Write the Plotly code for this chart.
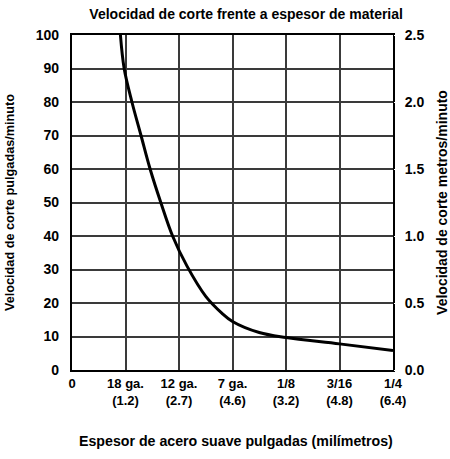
import plotly.graph_objects as go

# Material thickness positions (category slots along the x axis) and cutting speed (in/min)
thickness_pos = [0.905, 0.975, 1.12, 1.29, 1.46, 1.66, 1.88, 2.15, 2.5, 2.8, 3.0, 3.5, 4.0, 5.0, 6.0]
speed_ipm = [100, 90, 80, 70, 60, 50, 40, 31, 22, 17, 14.5, 11.2, 9.7, 7.8, 5.8]

x_tick_vals = [0, 1, 2, 3, 4, 5, 6]
x_tick_text = ["0", "18 ga.<br>(1.2)", "12 ga.<br>(2.7)", "7 ga.<br>(4.6)",
               "1/8<br>(3.2)", "3/16<br>(4.8)", "1/4<br>(6.4)"]
left_ticks = [0, 10, 20, 30, 40, 50, 60, 70, 80, 90, 100]
right_ticks = [0.0, 0.5, 1.0, 1.5, 2.0, 2.5]

FONT = "Liberation Sans, Arial, sans-serif"

fig = go.Figure()
fig.add_trace(go.Scatter(
    x=thickness_pos, y=speed_ipm, mode="lines",
    line=dict(color="black", width=3, shape="spline", smoothing=1.0),
    showlegend=False, hoverinfo="skip", cliponaxis=True,
))
# Metric scale companion (hidden) so the right axis is drawn
fig.add_trace(go.Scatter(
    x=[0, 6], y=[0, 2.5], mode="lines", yaxis="y2",
    line=dict(color="rgba(0,0,0,0)"), showlegend=False, hoverinfo="skip",
))

grid = dict(showgrid=True, gridcolor="#3a3a3a", gridwidth=1.6)

fig.update_layout(
    width=450, height=459,
    margin=dict(l=72, r=57, t=35, b=89),
    paper_bgcolor="white", plot_bgcolor="white",
    font=dict(family=FONT, color="black"),
    title=dict(
        text="<b>Velocidad de corte frente a espesor de material</b>",
        font=dict(size=14, family=FONT), x=0.547, xref="container",
        y=0.969, yref="container", xanchor="center", yanchor="middle",
    ),
    xaxis=dict(
        range=[0, 6], tickvals=x_tick_vals, ticktext=x_tick_text,
        tickfont=dict(size=13, family=FONT, weight="bold"),
        ticks="", ticklen=0, showline=True, linecolor="black", linewidth=2.2,
        mirror=True, zeroline=False, **grid,
        fixedrange=True, automargin=False,
    ),
    yaxis=dict(
        range=[0, 100], tickvals=left_ticks,
        tickfont=dict(size=14, family=FONT, weight="bold"),
        ticks="outside", ticklen=8, tickcolor="white",
        showline=True, linecolor="black", linewidth=2.2, mirror=True,
        zeroline=False, **grid, automargin=False,
        title=dict(text="<b>Velocidad de corte pulgadas/minuto</b>",
                   font=dict(size=12.7, family=FONT), standoff=18),
    ),
    yaxis2=dict(
        range=[0, 2.5], tickvals=right_ticks, tickformat=".1f",
        overlaying="y", side="right", automargin=False,
        tickfont=dict(size=14, family=FONT, weight="bold"),
        ticks="outside", ticklen=8, tickcolor="white",
        showgrid=False, zeroline=False, showline=False,
        title=dict(text="<b>Velocidad de corte metros/minuto</b>",
                   font=dict(size=14, family=FONT), standoff=16),
    ),
    annotations=[dict(
        text="<b>Espesor de acero suave pulgadas (milímetros)</b>",
        xref="paper", yref="paper", x=(236 - 72) / 321, y=-0.213,
        xanchor="center", yanchor="middle", showarrow=False,
        font=dict(size=14.2, family=FONT),
    )],
)

fig.write_html("out.html")
